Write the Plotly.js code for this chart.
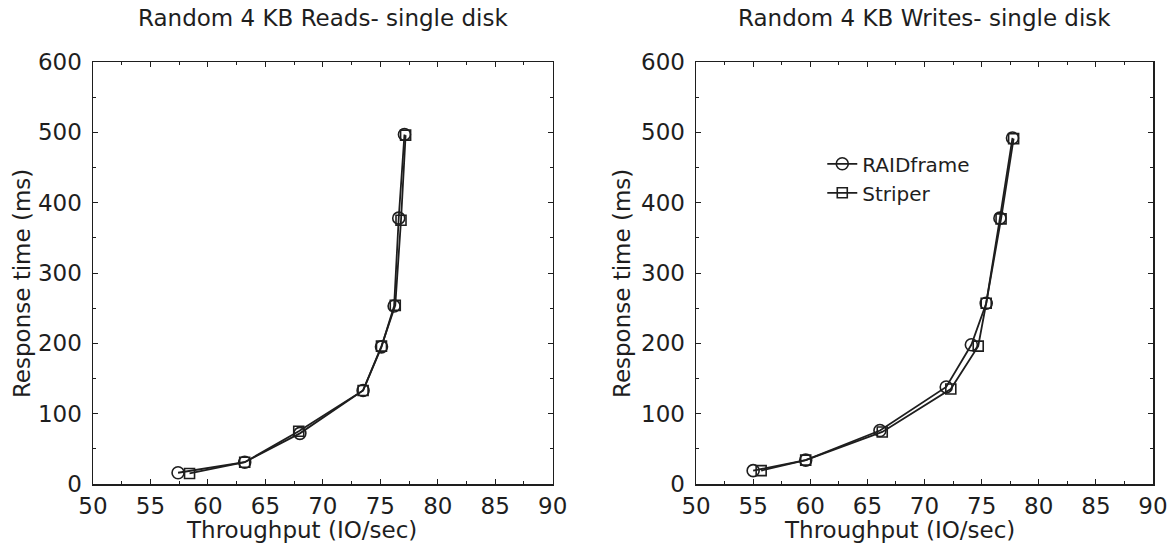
<!DOCTYPE html>
<html>
<head>
<meta charset="utf-8">
<script src="https://cdn.plot.ly/plotly-3.0.1.min.js"></script>
<style>html,body{margin:0;padding:0;background:#fff;}#chart{width:1173px;height:546px;}</style>
</head>
<body>
<div id="chart"></div>
<script>
// Left panel: Random 4 KB Reads
const readsRaidX = [57.4, 63.2, 68.0, 73.5, 75.1, 76.2, 76.6, 77.1];
const readsRaidY = [16, 31, 72, 133, 195, 253, 378, 497];
const readsStripX = [58.4, 63.2, 67.9, 73.5, 75.1, 76.3, 76.8, 77.2];
const readsStripY = [15, 31, 75, 133, 196, 254, 375, 496];
// Right panel: Random 4 KB Writes
const writesRaidX = [55.0, 59.6, 66.1, 71.9, 74.1, 75.4, 76.6, 77.7];
const writesRaidY = [19, 34, 76, 138, 198, 257, 378, 492];
const writesStripX = [55.7, 59.6, 66.3, 72.3, 74.7, 75.4, 76.7, 77.8];
const writesStripY = [19, 34, 74, 135, 196, 257, 377, 491];

const seriesNames = ['RAIDframe', 'Striper'];
const panelTitles = ['Random 4 KB Reads- single disk', 'Random 4 KB Writes- single disk'];
const xTitle = 'Throughput (IO/sec)';
const yTitle = 'Response time (ms)';

const FONT = 'DejaVu Sans, Liberation Sans, Arial, sans-serif';
const INK = '#1e1e1e';

function tr(x, y, name, sym, xa, ya, show) {
  return {
    x: x, y: y, name: name, type: 'scatter', mode: 'lines+markers',
    xaxis: xa, yaxis: ya, showlegend: show, legendgroup: name,
    line: {color: INK, width: 1.8},
    marker: {symbol: sym, size: sym.startsWith('circle') ? 12 : 10,
             color: INK, line: {color: INK, width: 1.6}}
  };
}

const data = [
  tr(readsRaidX, readsRaidY, seriesNames[0], 'circle-open', 'x', 'y', false),
  tr(readsStripX, readsStripY, seriesNames[1], 'square-open', 'x', 'y', false),
  tr(writesRaidX, writesRaidY, seriesNames[0], 'circle-open', 'x2', 'y2', true),
  tr(writesStripX, writesStripY, seriesNames[1], 'square-open', 'x2', 'y2', true)
];

function xax(domain, anchor) {
  return {
    domain: domain, anchor: anchor, range: [50, 90], dtick: 5, tick0: 50,
    showgrid: false, zeroline: false, showline: true, linecolor: INK, linewidth: 1.5,
    mirror: 'ticks', ticks: 'inside', ticklen: 5, tickcolor: INK, tickwidth: 1,
    minor: {dtick: 2.5, ticks: 'inside', ticklen: 3, tickcolor: INK, showgrid: false},
    tickfont: {family: FONT, size: 23, color: INK},
    ticklabelstandoff: 1,
    fixedrange: true
  };
}
function yax(domain, anchor) {
  return {
    domain: domain, anchor: anchor, range: [0, 600], dtick: 100, tick0: 0,
    showgrid: false, zeroline: false, showline: true, linecolor: INK, linewidth: 1.5,
    mirror: 'ticks', ticks: 'inside', ticklen: 5, tickcolor: INK, tickwidth: 1,
    minor: {dtick: 50, ticks: 'inside', ticklen: 3, tickcolor: INK, showgrid: false},
    tickfont: {family: FONT, size: 23, color: INK},
    ticklabelstandoff: 5,
    fixedrange: true
  };
}

const leftDom = [0, 0.4337];
const rightDom = [0.5689, 1];
const TF = {family: FONT, size: 23, color: INK};

function ann(text, x, y, angle) {
  return {text: text, xref: 'paper', yref: 'paper', x: x, y: y, textangle: angle || 0,
          xanchor: 'center', yanchor: 'middle', showarrow: false, font: TF};
}

const layout = {
  width: 1173, height: 546,
  margin: {l: 93, r: 20, t: 62, b: 62},
  paper_bgcolor: '#fff', plot_bgcolor: '#fff',
  font: {family: FONT, color: INK},
  xaxis: xax(leftDom, 'y'),
  yaxis: yax([0, 1], 'x'),
  xaxis2: xax(rightDom, 'y2'),
  yaxis2: yax([0, 1], 'x2'),
  showlegend: true,
  legend: {
    x: 0.688, y: 0.805, xanchor: 'left', yanchor: 'top',
    bgcolor: 'rgba(0,0,0,0)', borderwidth: 0,
    font: {family: FONT, size: 20, color: INK},
    itemwidth: 30, tracegroupgap: 0
  },
  annotations: [
    ann(panelTitles[0], (leftDom[0] + leftDom[1]) / 2, 1.104),
    ann(panelTitles[1], (rightDom[0] + rightDom[1]) / 2, 1.104),
    ann(xTitle, 0.197, -0.11),
    ann(xTitle, 0.761, -0.11),
    ann(yTitle, -0.067, 0.476, -90),
    ann(yTitle, 0.499, 0.476, -90)
  ]
};

Plotly.newPlot('chart', data, layout, {displayModeBar: false, staticPlot: true});
</script>
</body>
</html>
